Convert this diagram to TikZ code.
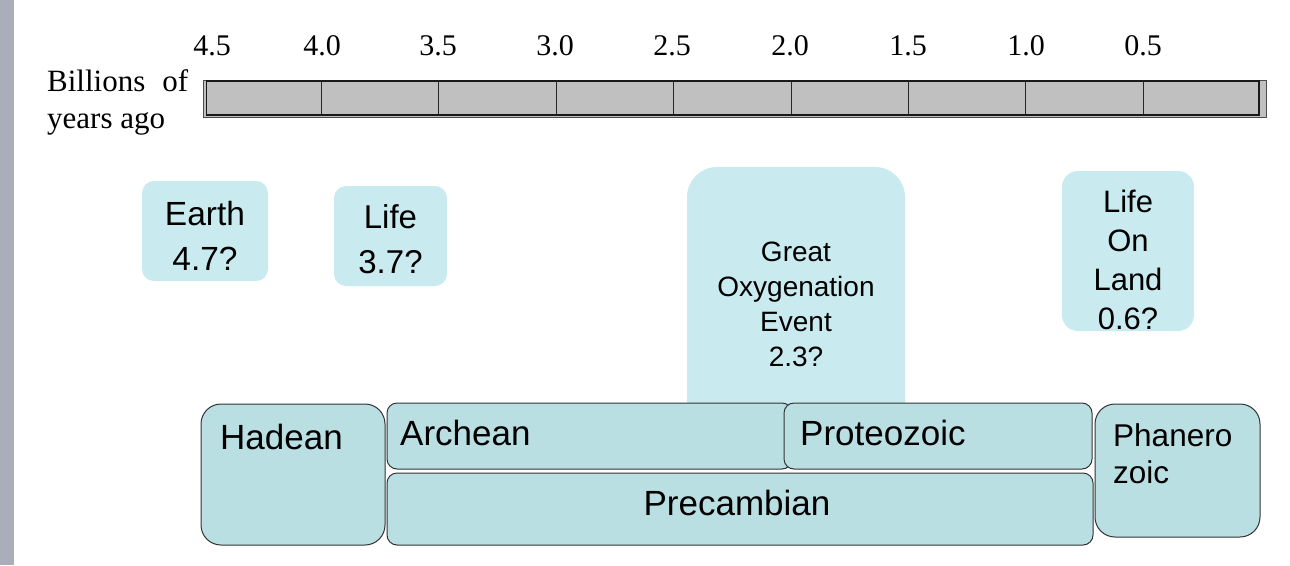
\documentclass[tikz,border=0pt]{standalone}
\usepackage{fontspec}
\setmainfont{Liberation Serif}
\newfontfamily\arialf{Liberation Sans}
\definecolor{topfill}{HTML}{C9EBF0}
\definecolor{botfill}{HTML}{B9DFE3}
\definecolor{barfill}{HTML}{C0C0C0}
\definecolor{sidebar}{HTML}{A9AEBA}
\begin{document}
\begin{tikzpicture}[x=1pt,y=-1pt,
  topbox/.style={fill=topfill, draw=none, rounded corners=#1, inner sep=0pt},
  topbox/.default=12pt,
  botbox/.style={fill=botfill, draw=black!80, line width=1pt, rounded corners=#1, inner sep=0pt},
  botbox/.default=10pt,
  yrlbl/.style={font=\fontsize{30}{30}\selectfont, anchor=base, inner sep=0pt},
  axlbl/.style={font=\fontsize{31}{37}\selectfont, anchor=base west, inner sep=0pt},
  eralbl/.style={font=\arialf\fontsize{35}{35}\selectfont, anchor=base west, inner sep=0pt}
]
\useasboundingbox (0,0) rectangle (1290,565);
\fill[white] (0,0) rectangle (1290,565);
\fill[sidebar] (0,0) rectangle (14,565);

% time bar
\draw[fill=barfill, draw=black!70, line width=0.8pt] (203,80) rectangle (1266,117);
\draw[fill=barfill, draw=black!90, line width=1.6pt] (206.5,81) rectangle (1259,115);
\foreach \k in {1,...,8}{
  \draw[black!85, line width=1pt] ({204+117.4*\k},81) -- ({204+117.4*\k},115);
}
\node[yrlbl] (t45) at (212,55) {4.5};
\node[yrlbl] (t40) at (322,55) {4.0};
\node[yrlbl] (t35) at (438,55) {3.5};
\node[yrlbl] (t30) at (555,55) {3.0};
\node[yrlbl] (t25) at (672,55) {2.5};
\node[yrlbl] (t20) at (790,55) {2.0};
\node[yrlbl] (t15) at (908,55) {1.5};
\node[yrlbl] (t10) at (1026,55) {1.0};
\node[yrlbl] (t05) at (1143,55) {0.5};
\node[axlbl] (bil) at (47,91) {Billions\hspace{0.55em}of};
\node[axlbl] (yrs) at (47,128) {years ago};

% event boxes
\node[topbox, minimum width=126pt, minimum height=100pt,
  label={[yshift=-4.5pt, align=center, font=\arialf\fontsize{33.5}{45}\selectfont]center:Earth\\4.7?}]
  (earth) at (205,231) {};
\node[topbox, minimum width=113pt, minimum height=100pt,
  label={[yshift=-3.5pt, align=center, font=\arialf\fontsize{33}{45}\selectfont]center:Life\\3.7?}]
  (life) at (390.5,236) {};
\node[topbox=30pt, minimum width=218pt, minimum height=275pt,
  align=center, font=\arialf\fontsize{28}{35}\selectfont]
  (goe) at (796,304.5) {Great\\Oxygenation\\Event\\2.3?};
\node[topbox=16pt, minimum width=132pt, minimum height=160pt,
  label={[yshift=-8.5pt, align=center, font=\arialf\fontsize{31}{39}\selectfont]center:Life\\On\\Land\\0.6?}]
  (land) at (1128,251) {};

% era boxes
\node[botbox=20pt, minimum width=184pt, minimum height=141pt] (hadean) at (293,474.5) {};
\node[botbox=10pt, minimum width=405pt, minimum height=66pt] (archean) at (589.5,436) {};
\node[botbox=10pt, minimum width=308pt, minimum height=66pt] (proteo) at (938,436) {};
\node[botbox=10pt, minimum width=706pt, minimum height=72pt,
  label={[xshift=-3pt, yshift=6pt, font=\arialf\fontsize{35}{35}\selectfont]center:Precambian}] (precamb) at (740,509) {};
\node[botbox=20pt, minimum width=165pt, minimum height=133pt] (phan) at (1177.5,470.5) {};

\node[eralbl] (hadeant) at (220,449) {Hadean};
\node[eralbl] (archeant) at (400,445) {Archean};
\node[eralbl] (proteot) at (800,445) {Proteozoic};
\node[eralbl, font=\arialf\fontsize{31.5}{31.5}\selectfont] (phant1) at (1113,446) {Phanero};
\node[eralbl, font=\arialf\fontsize{31.5}{31.5}\selectfont] (phant2) at (1113,483) {zoic};
\end{tikzpicture}
\end{document}
